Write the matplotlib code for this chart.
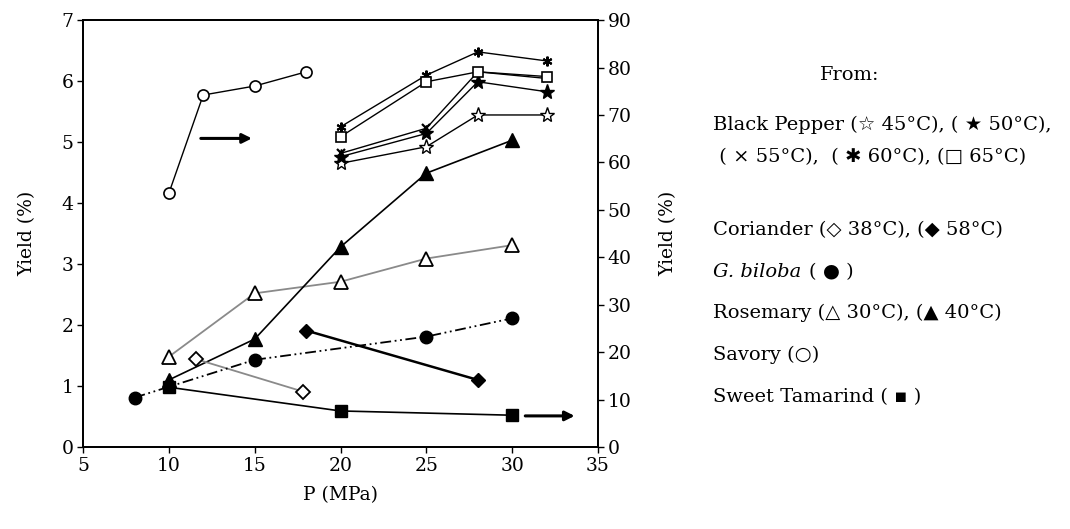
import matplotlib
matplotlib.use("Agg")
import matplotlib.pyplot as plt

plt.rcParams['font.family'] = ['DejaVu Serif', 'DejaVu Sans']
plt.rcParams['mathtext.fontset'] = 'dejavuserif'

# pressure (MPa) and yields; left axis in %, right axis in % (0-90)
bp_p = [20, 25, 28, 32]
bp_45 = [59.8, 63.3, 70.0, 70.0]
bp_50 = [61.2, 66.1, 77.0, 74.9]
bp_55 = [61.9, 67.2, 79.1, 77.7]
bp_60 = [67.5, 78.4, 83.3, 81.4]
bp_65 = [65.4, 77.0, 79.1, 78.1]

savory_p = [10, 12, 15, 18]
savory_y = [53.5, 74.2, 76.1, 79.1]

tamarind_p = [10, 20, 30]
tamarind_y = [12.6, 7.6, 6.7]

rose30_p = [10, 15, 20, 25, 30]
rose30_y = [1.48, 2.52, 2.71, 3.09, 3.31]
rose40_p = [10, 15, 20, 25, 30]
rose40_y = [1.1, 1.77, 3.28, 4.49, 5.03]

cor38_p = [11.6, 17.8]
cor38_y = [1.44, 0.91]
cor58_p = [18, 28]
cor58_y = [1.91, 1.10]

biloba_p = [8, 15, 25, 30]
biloba_y = [0.81, 1.43, 1.81, 2.11]

fig = plt.figure(figsize=(10.7, 5.29), dpi=100)
ax = fig.add_axes([0.0776, 0.155, 0.4813, 0.807])
ax2 = ax.twinx()

ax.set_xlim(5, 35)
ax.set_ylim(0, 7)
ax2.set_ylim(0, 90)

# left-axis series
ax.plot(rose30_p, rose30_y, color='#8a8a8a', lw=1.3, marker='^', ms=10,
        mfc='white', mec='black', mew=1.3)
ax.plot(rose40_p, rose40_y, color='black', lw=1.2, marker='^', ms=10,
        mfc='black', mec='black')
ax.plot(cor38_p, cor38_y, color='#8a8a8a', lw=1.3, marker='D', ms=7,
        mfc='white', mec='black', mew=1.3)
ax.plot(cor58_p, cor58_y, color='black', lw=1.8, marker='D', ms=7,
        mfc='black', mec='black')
ax.plot(biloba_p, biloba_y, color='black', lw=1.3, ls=(0, (6, 2, 1, 2, 1, 2)),
        marker='o', ms=9, mfc='black', mec='black')

# right-axis series
ax2.plot(savory_p, savory_y, color='black', lw=1.0, marker='o', ms=8,
         mfc='white', mec='black', mew=1.2)
ax2.plot(tamarind_p, tamarind_y, color='black', lw=1.2, marker='s', ms=8,
         mfc='black', mec='black')
ax2.plot(bp_p, bp_45, color='black', lw=1.0, marker='*', ms=11,
         mfc='white', mec='black', mew=1.0)
ax2.plot(bp_p, bp_50, color='black', lw=1.0, marker='*', ms=11,
         mfc='black', mec='black')
ax2.plot(bp_p, bp_55, color='black', lw=1.0, marker='x', ms=6,
         mec='black', mew=1.6)
ax2.plot(bp_p, bp_60, color='black', lw=1.0, marker=(6, 2, 0), ms=7,
         mec='black', mew=1.5)
ax2.plot(bp_p, bp_65, color='black', lw=1.0, marker='s', ms=7,
         mfc='white', mec='black', mew=1.2)

# arrows pointing at the right axis
arrow = dict(arrowstyle='-|>', color='black', lw=2.2, mutation_scale=14)
ax.annotate('', xy=(15.0, 5.06), xytext=(11.7, 5.06), arrowprops=arrow)
ax.annotate('', xy=(33.8, 0.51), xytext=(30.6, 0.51), arrowprops=arrow)

fs = 13.5
ax.set_xticks(range(5, 40, 5))
ax.set_yticks(range(0, 8))
ax2.set_yticks(range(0, 100, 10))
for a in (ax, ax2):
    a.tick_params(direction='out', length=4, width=1, labelsize=fs, pad=3)
    for s in a.spines.values():
        s.set_linewidth(1.3)
ax.set_xlabel('P (MPa)', fontsize=fs, labelpad=8)
ax.set_ylabel('Yield (%)', fontsize=fs, labelpad=18)
ax2.set_ylabel('Yield (%)', fontsize=fs, labelpad=20)

# species key on the right
kfs = 14
tx = 713 / 1070
fig.text(850 / 1070, 1 - 75 / 529, 'From:', fontsize=kfs, ha='center', va='center')
lines = [
    (125, 'Black Pepper (\u2606 45°C), ( \u2605 50°C),'),
    (157, ' ( \u00d7 55°C),  ( \u2731 60°C), (\u25a1 65°C)'),
    (230, 'Coriander (\u25c7 38°C), (\u25c6 58°C)'),
    (313, 'Rosemary (\u25b3 30°C), (\u25b2 40°C)'),
    (355, 'Savory (\u25cb)'),
    (397, 'Sweet Tamarind ( \u25aa )'),
]
for py, s in lines:
    fig.text(tx, 1 - py / 529, s, fontsize=kfs, ha='left', va='center')
gb = fig.text(tx, 1 - 272 / 529, 'G. biloba', fontsize=kfs, ha='left',
              va='center', style='italic')
bb = gb.get_window_extent(renderer=fig.canvas.get_renderer())
fig.text((bb.x1 + 8) / 1070, 1 - 272 / 529, '( \u25cf )', fontsize=kfs,
         ha='left', va='center')

fig.savefig('out.png', dpi=100)
